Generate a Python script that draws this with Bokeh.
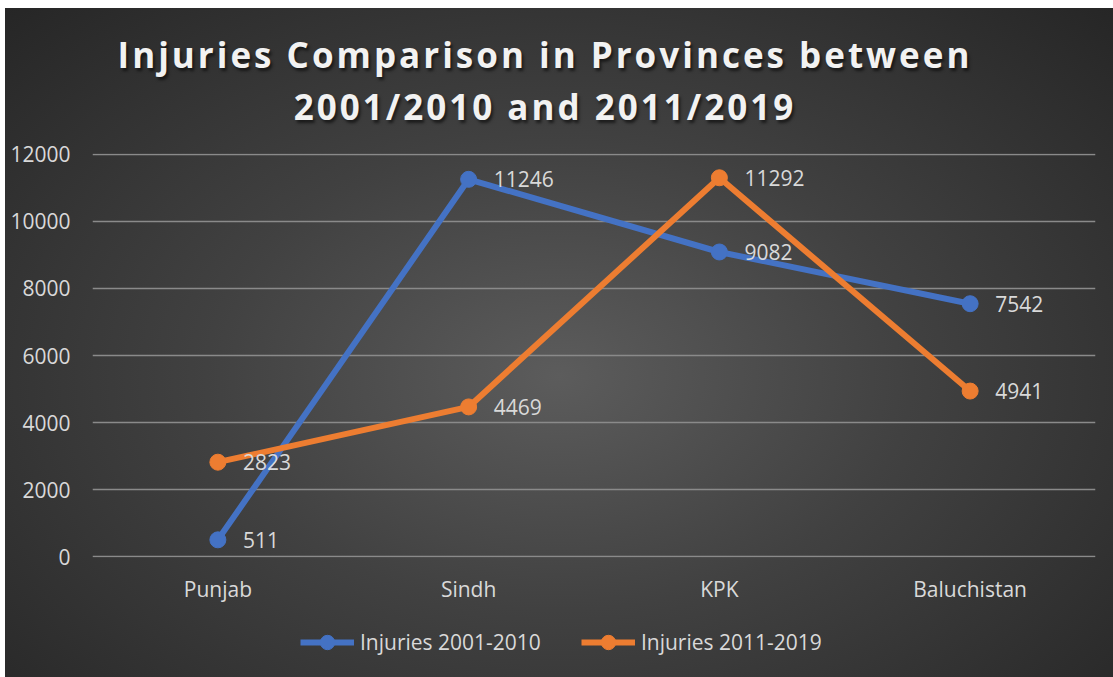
from bokeh.plotting import figure
from bokeh.models import ColumnDataSource, Legend, LegendItem, FixedTicker, Spacer, Range1d, Div
from bokeh.layouts import column, row
from bokeh.embed import file_html
from bokeh.resources import INLINE
from bokeh.core.properties import value

provinces = ["Punjab", "Sindh", "KPK", "Baluchistan"]
injuries_2001_2010 = [511, 11246, 9082, 7542]
injuries_2011_2019 = [2823, 4469, 11292, 4941]
y_ticks = [0, 2000, 4000, 6000, 8000, 10000, 12000]
series_names = ["Injuries 2001-2010", "Injuries 2011-2019"]
title_lines = ["Injuries Comparison in Provinces between", "2001/2010 and 2011/2019"]
colors = ["#4472C4", "#ED7D31"]

FONT = "Open Sans"
TXT = "#d9d9d9"
FS = "21px"
W = 1108

# ---- title -------------------------------------------------------------
title_html = (
    '<div style="width:1080px; text-align:center; font-family:\'Open Sans\'; font-weight:bold;'
    ' font-size:35px; line-height:52px; letter-spacing:3px; color:#f2f2f2; padding-top:21px;'
    ' text-shadow:2px 3px 3px rgba(0,0,0,0.55); white-space:nowrap;">'
    + "<br>".join(title_lines) + "</div>"
)
title_div = Div(text=title_html, width=W, height=130, margin=0)

# ---- main chart --------------------------------------------------------
p = figure(x_range=provinces, y_range=Range1d(-15, 12015), width=W, height=482,
           output_backend="svg", toolbar_location=None,
           min_border_left=87, min_border_right=18, min_border_top=15, min_border_bottom=63)
p.background_fill_color = None
p.border_fill_color = None
p.outline_line_color = None

p.yaxis.ticker = FixedTicker(ticks=y_ticks)
for ax in (p.xaxis[0], p.yaxis[0]):
    ax.axis_line_color = None
    ax.major_tick_line_color = None
    ax.minor_tick_line_color = None
    ax.major_label_text_font = FONT
    ax.major_label_text_font_size = FS
    ax.major_label_text_color = TXT
p.yaxis.major_label_standoff = 16
p.xaxis.major_label_standoff = 11

p.xgrid.grid_line_color = None
p.ygrid.grid_line_color = "#8a8a8a"
p.ygrid.grid_line_width = 1.5
p.ygrid.ticker = FixedTicker(ticks=y_ticks)

for vals, c in zip([injuries_2001_2010, injuries_2011_2019], colors):
    src = ColumnDataSource(dict(x=provinces, y=vals, lbl=[str(v) for v in vals]))
    p.line("x", "y", source=src, line_color=c, line_width=6)
    p.scatter("x", "y", source=src, size=16, fill_color=c, line_color=c)
    p.text("x", "y", text="lbl", source=src, x_offset=25, text_baseline="middle",
           text_font=value(FONT), text_font_size=FS, text_color=TXT)

# ---- legend strip ------------------------------------------------------
lg = figure(width=W, height=57, output_backend="svg", toolbar_location=None,
            x_range=Range1d(0, 1), y_range=Range1d(0, 1), x_axis_type=None, y_axis_type=None,
            min_border=0)
lg.background_fill_color = None
lg.border_fill_color = None
lg.outline_line_color = None
items = []
for name, c in zip(series_names, colors):
    # legend proxies, placed outside the visible range of the strip
    ln = lg.line(x=[-5, -4], y=[-5, -5], line_color=c, line_width=6)
    sc = lg.scatter(x=[-5], y=[-5], size=16, fill_color=c, line_color=c)
    items.append(LegendItem(label=name, renderers=[ln, sc]))
legend = Legend(items=items, orientation="horizontal", location=(208, 17),
                background_fill_alpha=0, border_line_color=None,
                label_text_font=FONT, label_text_font_size=FS, label_text_color=TXT,
                glyph_width=54, glyph_height=36, label_standoff=6, spacing=40,
                margin=0, padding=0)
lg.add_layout(legend, "center")

inner = column(title_div, p, lg, spacing=0,
               styles={"background": "radial-gradient(ellipse farthest-corner at 50% 55%, #5c5c5c 0%, #414141 45%, #262626 100%)"})
layout = column(Spacer(height=8), row(Spacer(width=5), inner))
open("out.html", "w").write(file_html(layout, INLINE))
